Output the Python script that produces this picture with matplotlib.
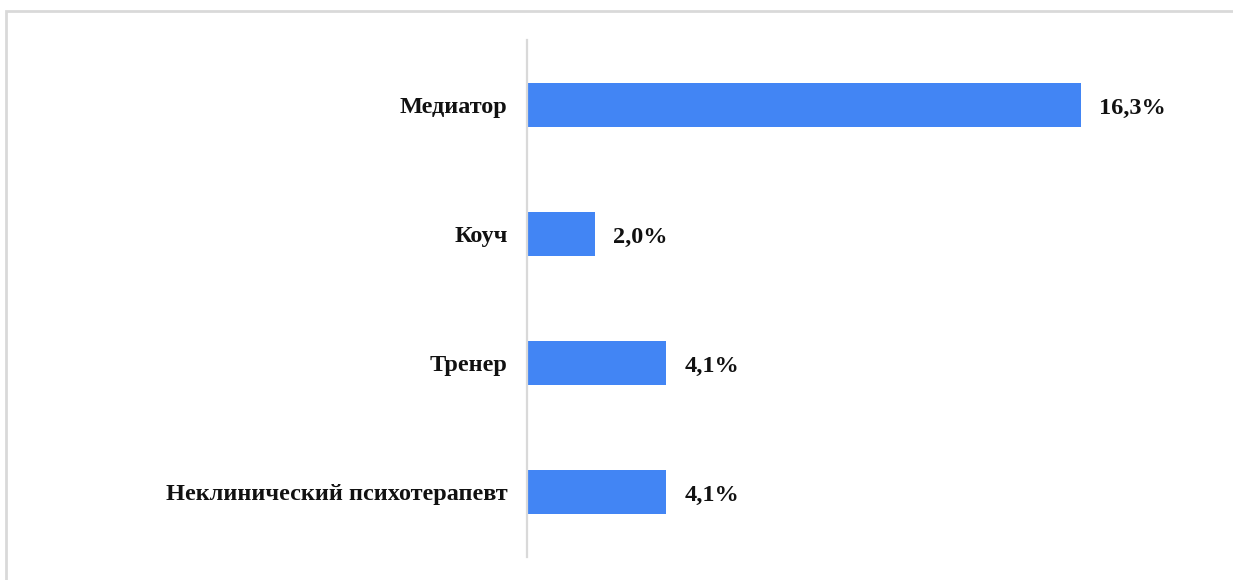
import matplotlib.pyplot as plt
from matplotlib.patches import Rectangle

# data
categories = ['Медиатор', 'Коуч', 'Тренер', 'Неклинический психотерапевт']
values = [16.3, 2.0, 4.1, 4.1]
value_labels = ['16,3%', '2,0%', '4,1%', '4,1%']

plt.rcParams['font.family'] = ['Liberation Serif', 'DejaVu Serif']

fig = plt.figure(figsize=(12.33, 5.80), dpi=100)

# light frame around the chart area (runs off the right and bottom edge)
fig.patches.append(Rectangle((6 / 1233, -0.1), 1.2, (580 - 11) / 580 + 0.1,
                             transform=fig.transFigure, fill=False,
                             edgecolor='#d9d9d9', linewidth=2))

ax = fig.add_axes([527 / 1233, 23 / 580, 680 / 1233, 517 / 580])

y = list(range(len(categories)))
ax.barh(y, values, height=0.34, color='#4285f4')

for yi, v, lab in zip(y, values, value_labels):
    ax.annotate(lab, (v, yi), xytext=(13, -2.5), textcoords='offset points',
                va='center', ha='left', fontsize=17.5, fontweight='bold',
                color='#111111')

ax.set_xlim(0, 20)
ax.set_ylim(len(categories) - 0.5, -0.5)
ax.set_yticks(y)
ax.set_yticklabels(categories, fontsize=17.5, fontweight='bold', color='#111111',
                   va='center_baseline')
ax.set_xticks([])
ax.tick_params(axis='y', length=0, pad=14)

for s in ['top', 'right', 'bottom']:
    ax.spines[s].set_visible(False)
ax.spines['left'].set_color('#d9d9d9')
ax.spines['left'].set_linewidth(1.6)

fig.savefig('out.png', dpi=100)
